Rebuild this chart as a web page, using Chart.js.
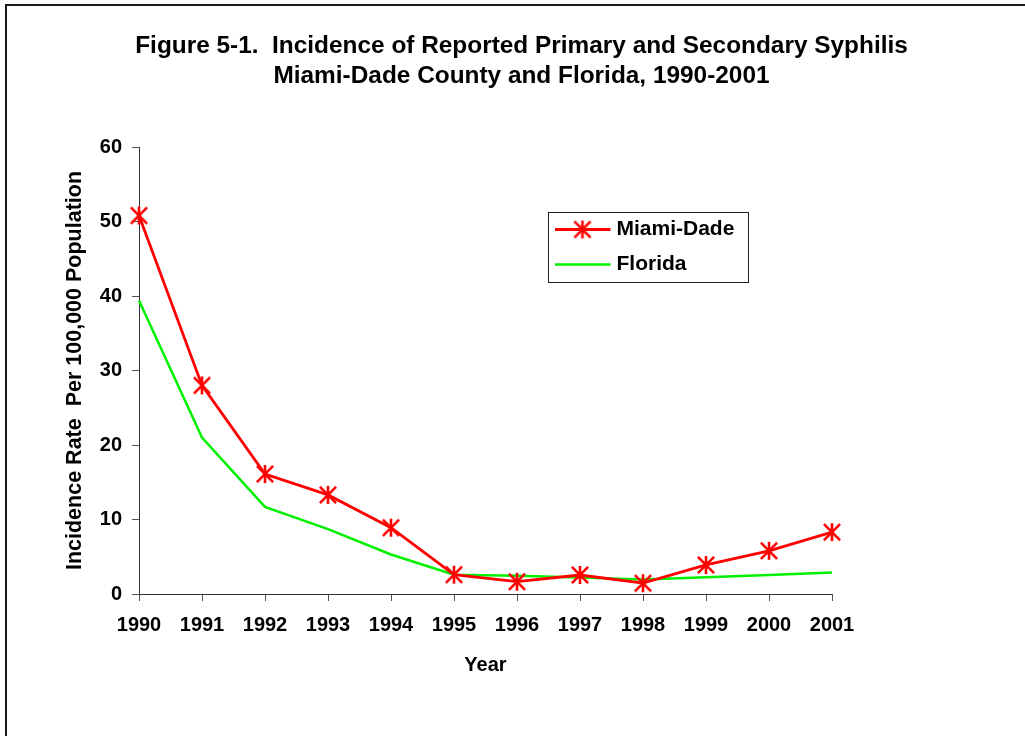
<!DOCTYPE html>
<html>
<head>
<meta charset="utf-8">
<script src="https://cdn.jsdelivr.net/npm/chart.js@4.4.1/dist/chart.umd.min.js"></script>
<style>
  html, body { margin: 0; padding: 0; background: #fff; overflow: hidden; }
  #frame {
    position: absolute; left: 5px; top: 4px; width: 2000px; height: 2000px;
    border-top: 2px solid #1a1a1a; border-left: 2px solid #1a1a1a;
  }
  #chart { position: absolute; left: 0; top: 0; }
</style>
</head>
<body>
<div id="frame"></div>
<canvas id="chart" width="1025" height="736"></canvas>
<script>
// data
const years = ['1990', '1991', '1992', '1993', '1994', '1995', '1996', '1997', '1998', '1999', '2000', '2001'];
const miamiDade = [50.8, 28.0, 16.1, 13.3, 8.9, 2.6, 1.65, 2.55, 1.45, 3.9, 5.8, 8.3];
const florida = [39.4, 21.0, 11.7, 8.7, 5.3, 2.6, 2.45, 2.2, 1.95, 2.25, 2.55, 2.9];
const yTicks = [0, 10, 20, 30, 40, 50, 60];

const titleLines = [
    'Figure 5-1.  Incidence of Reported Primary and Secondary Syphilis',
    'Miami-Dade County and Florida, 1990-2001'
];
const seriesNames = ['Miami-Dade', 'Florida'];

const FONT = "'Liberation Sans', Arial, sans-serif";

// asterisk marker like the old spreadsheet one (vertical bar + X)
function makeAsterisk(color, r, lw){
    const c = document.createElement('canvas');
    const s = Math.ceil(2 * r + 4);
    c.width = s;
    c.height = s;
    const g = c.getContext('2d');
    const m = s / 2;
    const d = r * 0.9;
    g.strokeStyle = color;
    g.lineWidth = lw;
    g.beginPath();
    g.moveTo(m, m - r); g.lineTo(m, m + r);
    g.moveTo(m - d, m - d); g.lineTo(m + d, m + d);
    g.moveTo(m + d, m - d); g.lineTo(m - d, m + d);
    g.stroke();
    return c;
}
const star = makeAsterisk('#ff0000', 9, 2.6);

const titlePlugin = {
    id: 'figTitle',
    afterDraw(chart){
        const ctx = chart.ctx;
        ctx.save();
        ctx.font = 'bold 24.4px ' + FONT;
        ctx.fillStyle = '#000';
        ctx.textAlign = 'center';
        ctx.textBaseline = 'middle';
        titleLines.forEach((t, i) => ctx.fillText(t, 521.5, 46 + i * 30));
        ctx.restore();
    }
};

const legendPlugin = {
    id: 'boxLegend',
    afterDraw(chart){
        const ctx = chart.ctx;
        const area = chart.chartArea;
        const x0 = area.left + 409.5;
        const y0 = area.top + 65.5;
        ctx.save();
        ctx.fillStyle = '#fff';
        ctx.fillRect(x0, y0, 200, 70);
        ctx.strokeStyle = '#222';
        ctx.lineWidth = 1;
        ctx.strokeRect(x0, y0, 200, 70);
        ctx.font = 'bold 21px ' + FONT;
        ctx.textBaseline = 'middle';
        ctx.textAlign = 'left';
        chart.data.datasets.forEach((ds, i) => {
            const y = y0 + 17 + i * 35;
            ctx.strokeStyle = ds.borderColor;
            ctx.lineWidth = ds.borderWidth;
            ctx.beginPath();
            ctx.moveTo(x0 + 6.5, y);
            ctx.lineTo(x0 + 62, y);
            ctx.stroke();
            if (ds.pointRadius > 0) {
                ctx.drawImage(ds.pointStyle, x0 + 34 - ds.pointStyle.width / 2, y - ds.pointStyle.height / 2);
            }
            ctx.fillStyle = '#000';
            ctx.fillText(ds.label, x0 + 68, y);
        });
        ctx.restore();
    }
};

const axisGrid = {
    display: true,
    drawOnChartArea: false,
    drawTicks: true,
    tickLength: 7,
    tickColor: '#555'
};

new Chart(document.getElementById('chart'), {
    type: 'line',
    data: {
        labels: years,
        datasets: [
            {
                label: seriesNames[0],
                data: miamiDade,
                borderColor: '#ff0000',
                backgroundColor: '#ff0000',
                borderWidth: 2.8,
                tension: 0,
                pointStyle: star,
                pointRadius: 8,
                pointHoverRadius: 8
            },
            {
                label: seriesNames[1],
                data: florida,
                borderColor: '#00f000',
                backgroundColor: '#00f000',
                borderWidth: 2.5,
                tension: 0,
                pointRadius: 0
            }
        ]
    },
    options: {
        responsive: false,
        animation: false,
        devicePixelRatio: 1,
        layout: { padding: { left: 60, top: 147, right: 193, bottom: 52 } },
        plugins: {
            legend: { display: false },
            title: { display: false },
            tooltip: { enabled: false }
        },
        scales: {
            x: {
                type: 'category',
                offset: false,
                grid: axisGrid,
                border: { display: true, color: '#333', width: 1 },
                ticks: {
                    autoSkip: false,
                    maxRotation: 0,
                    padding: 12,
                    color: '#000',
                    font: { family: FONT, size: 20, weight: 'bold' }
                },
                title: {
                    display: true,
                    text: 'Year',
                    color: '#000',
                    font: { family: FONT, size: 20, weight: 'bold' },
                    padding: { top: 0, bottom: 7 }
                },
                afterFit(scale){ scale.height = 90; }
            },
            y: {
                min: 0,
                max: 60,
                afterBuildTicks(scale){ scale.ticks = yTicks.map(v => ({ value: v })); },
                grid: axisGrid,
                border: { display: true, color: '#333', width: 1 },
                ticks: {
                    padding: 10,
                    color: '#000',
                    font: { family: FONT, size: 20, weight: 'bold' }
                },
                title: {
                    display: true,
                    text: 'Incidence Rate  Per 100,000 Population',
                    color: '#000',
                    font: { family: FONT, size: 21.5, weight: 'bold' },
                    padding: { top: 2, bottom: 0 }
                },
                afterFit(scale){ scale.width = 79; }
            }
        }
    },
    plugins: [titlePlugin, legendPlugin]
});
</script>
</body>
</html>
